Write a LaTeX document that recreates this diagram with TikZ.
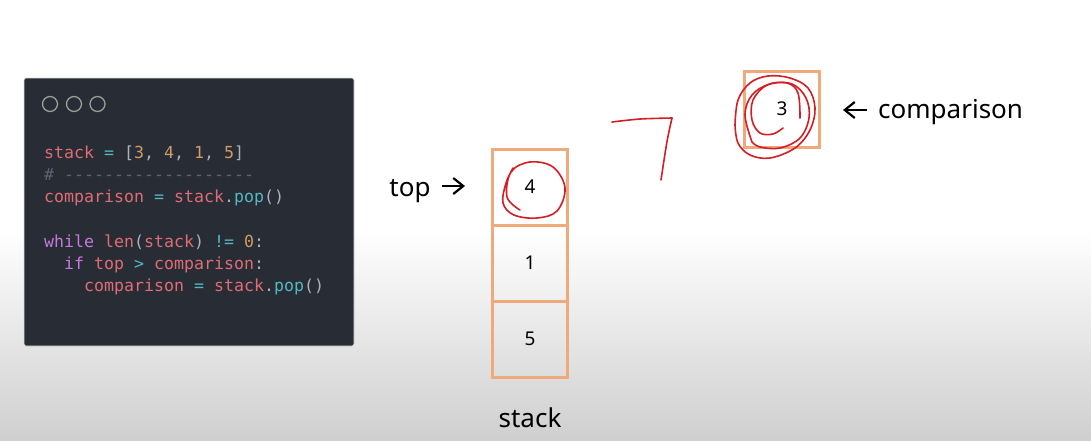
\documentclass[tikz,border=0pt]{standalone}
\usepackage{fontspec}
\setmainfont{Noto Sans}
\setmonofont{DejaVu Sans Mono}
\usetikzlibrary{arrows.meta}
\definecolor{panelbg}{HTML}{282C34}
\definecolor{cred}{HTML}{E06C75}
\definecolor{ccyan}{HTML}{56B6C2}
\definecolor{corange}{HTML}{D19A66}
\definecolor{cpurple}{HTML}{C678DD}
\definecolor{cgrey}{HTML}{ABB2BF}
\definecolor{ccomment}{HTML}{5C6370}
\definecolor{dotgrey}{HTML}{9A9A9A}
\definecolor{boxorange}{HTML}{EFA97B}
\definecolor{ink}{HTML}{D41E24}
\definecolor{bgbottom}{HTML}{CFCFCF}
\newcommand{\tR}[1]{\textcolor{cred}{#1}}
\newcommand{\tC}[1]{\textcolor{ccyan}{#1}}
\newcommand{\tO}[1]{\textcolor{corange}{#1}}
\newcommand{\tP}[1]{\textcolor{cpurple}{#1}}
\newcommand{\tG}[1]{\textcolor{cgrey}{#1}}
\newcommand{\tK}[1]{\textcolor{ccomment}{#1}}
\tikzset{
  codeline/.style={anchor=base west, inner sep=0pt, font=\ttfamily\fontsize{16.6}{20}\selectfont},
  winbtn/.style={circle, draw=dotgrey, line width=1.3pt, minimum size=15pt, inner sep=0pt},
  cell/.style={draw=boxorange, line width=3pt, minimum width=75pt, minimum height=76pt, inner sep=0pt, font=\fontsize{19}{22}\selectfont},
  lbl/.style={inner sep=0pt, font=\fontsize{26}{30}\selectfont},
  pointer/.style={-{Straight Barb[length=10pt,width=16pt]}, line width=2.2pt, black},
  scribble/.style={draw=ink, line width=1.6pt, line cap=round, line join=round}
}
\begin{document}
\begin{tikzpicture}[x=1pt,y=-1pt]
\useasboundingbox (0,0) rectangle (1091,440);
\fill[white] (0,0) rectangle (1091,440);
\shade[top color=white, bottom color=bgbottom] (0,230) rectangle (1091,440);

% code panel
\node[fill=panelbg, draw=gray!25, line width=0.8pt, rounded corners=2pt, minimum width=330pt, minimum height=268pt, inner sep=0pt] (codepanel) at (189,212) {};
\node[winbtn] (b1) at (50,104) {};
\node[winbtn] (b2) at (74,104) {};
\node[winbtn] (b3) at (97.5,104) {};

\node[codeline] (c1) at (44,158) {\tR{stack} \tC{=} \tG{[}\tO{3}\tG{,} \tO{4}\tG{,} \tO{1}\tG{,} \tO{5}\tG{]}};
\node[codeline] (c2) at (44,180) {\tK{\# -------------------}};
\node[codeline] (c3) at (44,202) {\tR{comparison} \tC{=} \tR{stack}\tG{.}\tC{pop}\tG{()}};
\node[codeline] (c4) at (44,247) {\tP{while} \tR{len}\tG{(}\tR{stack}\tG{)} \tC{!=} \tO{0}\tG{:}};
\node[codeline] (c5) at (64,269) {\tP{if} \tR{top} \tC{>} \tR{comparison}\tG{:}};
\node[codeline] (c6) at (84,291) {\tR{comparison} \tC{=} \tR{stack}\tG{.}\tC{pop}\tG{()}};

% stack
\node[cell] (s4) at (530,187) {4};
\node[cell] (s1) at (530,263) {1};
\node[cell] (s5) at (530,339) {5};
\node[lbl] (stacklbl) at (530,418) {stack};

% top pointer
\node[lbl] (toplbl) at (410,191) {top};
\draw[pointer, shorten <=11pt, shorten >=26pt] ([yshift=5pt]toplbl.east) -- ([yshift=5pt]toplbl.east -| s4.west);

% comparison
\node[cell] (cmp) at (782,109) {3};
\node[lbl, anchor=west] (cmplbl) at (878,112) {comparison};
\draw[pointer, shorten <=11pt, shorten >=22pt] ([yshift=2pt]cmplbl.west) -- ([yshift=2pt]cmplbl.west -| cmp.east);

% handwritten red marks
\draw[scribble] plot[smooth, tension=0.6] coordinates {(520,210) (507,197) (511,172) (530,162) (553,167) (565,188) (557,211) (537,218) (514,215) (503,203) (506,183) (513,168)};
\draw[scribble] plot[smooth, tension=0.6] coordinates {(735,125) (738,100) (750,83) (768,76) (790,78) (808,88) (815,108) (810,130) (795,148) (770,158) (750,155) (738,143) (735,125)};
\draw[scribble] plot[smooth, tension=0.6] coordinates {(752,142) (745,115) (752,95) (770,84) (792,84) (806,98) (809,118) (800,138) (780,148) (760,147) (752,142)};
\draw[scribble] plot[smooth, tension=0.6] coordinates {(800,118) (798,93) (787,83) (767,85) (753,100) (752,120) (760,133) (773,134) (783,128)};
\draw[scribble] plot[smooth, tension=0.5] coordinates {(612,122) (640,119) (672,118)};
\draw[scribble] (672,118) .. controls (667,140) .. (661,180);
\end{tikzpicture}
\end{document}
